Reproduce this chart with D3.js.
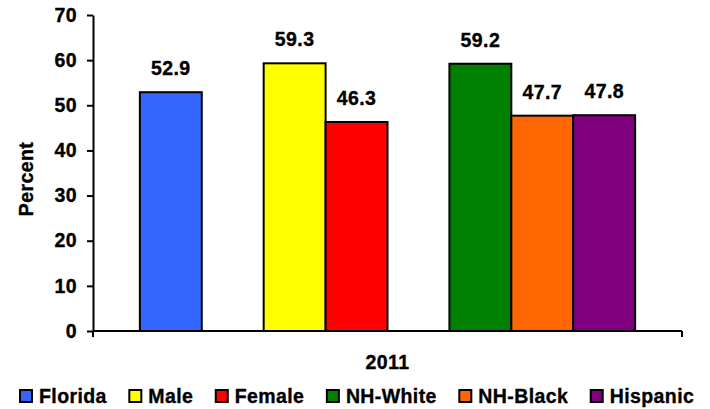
<!DOCTYPE html>
<html>
<head>
<meta charset="utf-8">
<script src="https://cdn.jsdelivr.net/npm/d3@7"></script>
<style>
  body { margin: 0; background: #fff; }
  svg text { font-family: "Liberation Sans", Arial, sans-serif; font-weight: bold; font-size: 19.5px; letter-spacing: 0.4px; fill: #000; stroke: #000; stroke-width: 0.35px; }
</style>
</head>
<body>
<svg id="chart" width="710" height="409"></svg>
<script>
// data
const categories = ["Florida", "Male", "Female", "NH-White", "NH-Black", "Hispanic"];
const values = [52.9, 59.3, 46.3, 59.2, 47.7, 47.8];
const colors = ["#3366FF", "#FFFF00", "#FF0000", "#008000", "#FF6600", "#800080"];
// bar slots inside the single 2011 group, blanks leave the gaps
const slots = ["Florida", "gap1", "Male", "Female", "gap2", "NH-White", "NH-Black", "Hispanic"];
const yTicks = [0, 10, 20, 30, 40, 50, 60, 70];
const groupLabel = "2011";

const svg = d3.select("#chart");
const plotLeft = 93, plotRight = 682, plotTop = 15, plotBottom = 331;

const x = d3.scaleBand().domain(slots).range([plotLeft, plotRight]).paddingInner(0).paddingOuter(0.757);
const y = d3.scaleLinear().domain([0, 70]).range([plotBottom, plotTop]);

const bars = categories.map((c, i) => ({ name: c, value: values[i], color: colors[i] }));

// bars
svg.append("g").selectAll("rect")
  .data(bars)
  .enter()
  .append("rect")
  .attr("x", d => x(d.name))
  .attr("y", d => y(d.value))
  .attr("width", x.bandwidth())
  .attr("height", d => y(0) - y(d.value))
  .attr("fill", d => d.color)
  .attr("stroke", "#000")
  .attr("stroke-width", 2);

// value labels
svg.append("g").selectAll("text")
  .data(bars)
  .enter()
  .append("text")
  .attr("x", d => x(d.name) + x.bandwidth() / 2)
  .attr("y", d => y(d.value) - 17)
  .attr("text-anchor", "middle")
  .text(d => d.value.toFixed(1));

// y axis
const yAxis = svg.append("g")
  .attr("transform", `translate(${plotLeft},0)`)
  .call(d3.axisLeft(y).tickValues(yTicks).tickSize(6).tickPadding(10).tickSizeOuter(0));
yAxis.attr("font-size", null).attr("font-family", null);
yAxis.select(".domain").attr("stroke", "#000").attr("stroke-width", 2);
yAxis.selectAll(".tick line").attr("stroke", "#000").attr("stroke-width", 2);

// x axis: one category, ticks at both ends pointing down
const xAxis = svg.append("g").attr("transform", `translate(0,${plotBottom})`);
xAxis.append("line")
  .attr("x1", plotLeft).attr("x2", plotRight)
  .attr("stroke", "#000").attr("stroke-width", 2);
xAxis.selectAll(".endtick")
  .data([plotLeft, plotRight])
  .enter()
  .append("line")
  .attr("class", "endtick")
  .attr("x1", d => d).attr("x2", d => d)
  .attr("y1", 0).attr("y2", 6)
  .attr("stroke", "#000").attr("stroke-width", 2);

svg.append("text")
  .attr("x", (plotLeft + plotRight) / 2)
  .attr("y", 369)
  .attr("text-anchor", "middle")
  .text(groupLabel);

svg.append("text")
  .attr("transform", "translate(33,179) rotate(-90)")
  .attr("text-anchor", "middle")
  .text("Percent");

// legend
const legend = svg.append("g");
let lx = 19;
bars.forEach(d => {
  legend.append("rect")
    .attr("x", lx + 1).attr("y", 390)
    .attr("width", 12).attr("height", 12)
    .attr("fill", d.color)
    .attr("stroke", "#000").attr("stroke-width", 2);
  const t = legend.append("text")
    .attr("x", lx + 20)
    .attr("y", 403)
    .text(d.name);
  lx += 20 + t.node().getComputedTextLength() + 21.5;
});
</script>
</body>
</html>
